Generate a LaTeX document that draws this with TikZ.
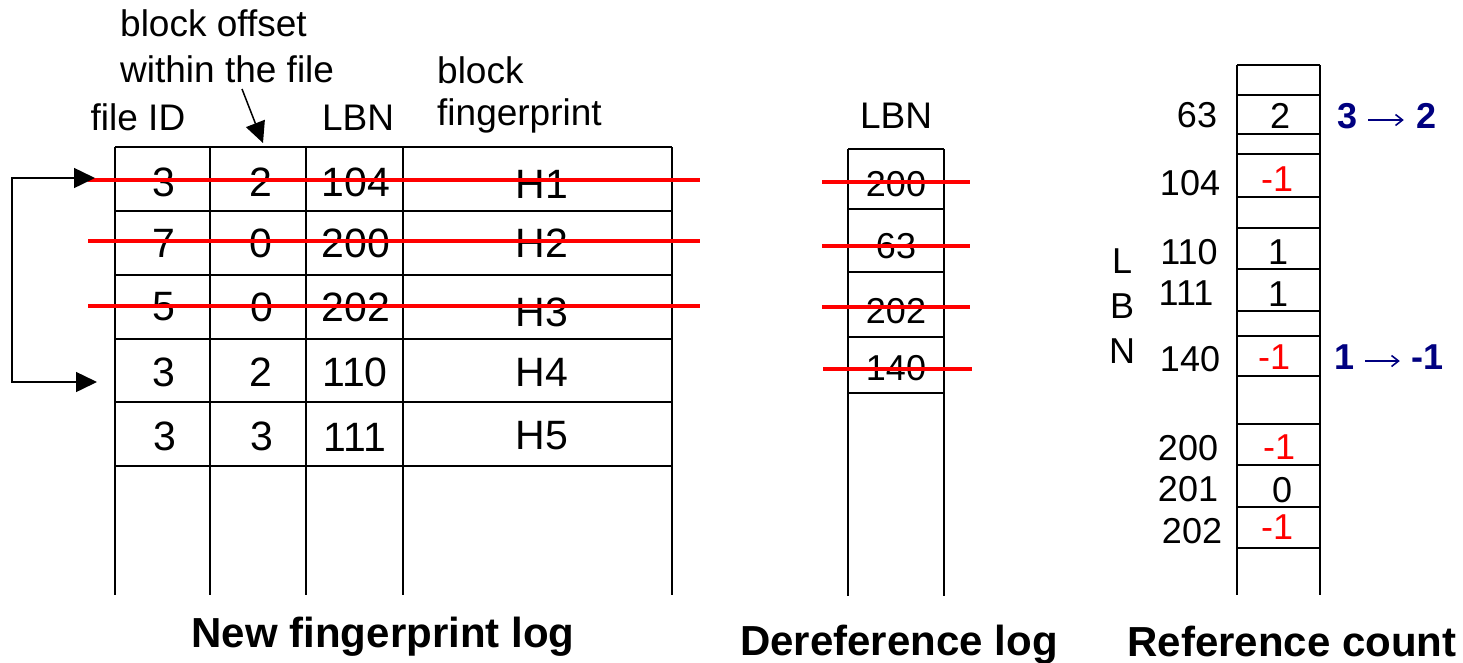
\documentclass[tikz,border=0pt]{standalone}
\usepackage{fontspec}
\setmainfont{Liberation Sans}
\usetikzlibrary{arrows.meta}
\definecolor{navy}{RGB}{0,0,128}
\begin{document}
\begin{tikzpicture}[x=1pt,y=-1pt,
  grid/.style={line width=1.8pt, black},
  strike/.style={line width=4pt, red},
  cell/.style={inner sep=0pt, font=\fontsize{41}{48}\selectfont},
  head/.style={inner sep=0pt, anchor=base, font=\fontsize{37}{44}\selectfont},
  small/.style={inner sep=0pt, font=\fontsize{36}{43}\selectfont},
  neg/.style={small, text=red},
  caption/.style={inner sep=0pt, anchor=base, font=\fontsize{42}{50}\selectfont\bfseries},
  change/.style={inner sep=0pt, text=navy, font=\fontsize{36}{43}\selectfont\bfseries},
  changearrow/.style={navy, line width=1.6pt, -{Straight Barb[length=7pt,width=11pt,line width=1.6pt]}},
  bigtip/.style={-{Triangle[length=21pt,width=20pt]}, line width=1.5pt},
  bothtips/.style={{Triangle[length=21pt,width=20pt]}-{Triangle[length=21pt,width=20pt]}, line width=1.5pt}
]
\useasboundingbox (0,0) rectangle (1463,662);

% ---------------- new fingerprint log ----------------
\foreach \y in {147,211,275,339,402,466} \draw[grid] (115,\y) -- (672,\y);
\foreach \x in {115,210,306,403,672} \draw[grid] (\x,147) -- (\x,595);

\node[head] (hfid) at (138,130) {file ID};
\node[head, anchor=base west] (hoffa) at (120,36) {block offset};
\node[head, anchor=base west] (hoffb) at (120,82) {within the file};
\node[head] (hlbn) at (358,130) {LBN};
\node[head, anchor=base west] (hfpa) at (437,83) {block};
\node[head, anchor=base west] (hfpb) at (437,125) {fingerprint};

\coordinate (offtail) at (242,89);
\coordinate (offtip) at (263,143);
\draw[bigtip] (offtail) -- (offtip);

\node[cell] (r1a) at (164,182) {3};
\node[cell] (r1b) at (261,182) {2};
\node[cell] (r1c) at (356,182) {104};
\node[cell] (r1d) at (542,184) {H1};
\node[cell] (r2a) at (164,243) {7};
\node[cell] (r2b) at (261,243) {0};
\node[cell] (r2c) at (356,243) {200};
\node[cell] (r2d) at (542,243) {H2};
\node[cell] (r3a) at (164,307) {5};
\node[cell] (r3b) at (262,307) {0};
\node[cell] (r3c) at (356,307) {202};
\node[cell] (r3d) at (542,312) {H3};
\node[cell] (r4a) at (164,372) {3};
\node[cell] (r4b) at (261,372) {2};
\node[cell] (r4c) at (355,372) {110};
\node[cell] (r4d) at (542,372) {H4};
\node[cell] (r5a) at (165,436) {3};
\node[cell] (r5b) at (262,436) {3};
\node[cell] (r5c) at (355,437) {111};
\node[cell] (r5d) at (542,436) {H5};

\foreach \y in {180,241,306} \draw[strike] (88,\y) -- (700,\y);

% entry pointer on the left
\coordinate (loopa) at (95,178);
\coordinate (loopb) at (12,178);
\coordinate (loopc) at (12,382);
\coordinate (loopd) at (97,382);
\draw[bothtips] (loopa) -- (loopb) -- (loopc) -- (loopd);

\node[caption] (capa) at (383,647) {New fingerprint log};

% ---------------- dereference log ----------------
\foreach \y in {149,209,272,337,393} \draw[grid] (848,\y) -- (944,\y);
\foreach \x in {848,944} \draw[grid] (\x,149) -- (\x,596);

\node[head] (dlbn) at (896,128) {LBN};
\node[small] (d1) at (896,184) {200};
\node[small] (d2) at (896,246) {63};
\node[small] (d3) at (896,311) {202};
\node[small] (d4) at (896,368) {140};

\draw[strike] (822,182) -- (970,182);
\draw[strike] (822,246) -- (970,246);
\draw[strike] (822,307) -- (970,307);
\draw[strike] (823,369) -- (972,369);

\node[caption] (capb) at (899,655) {Dereference log};

% ---------------- reference count ----------------
\foreach \y in {65,95,134,154,197,228,269,311,336,376,424,465,507,548}
  \draw[grid] (1237,\y) -- (1320,\y);
\foreach \x in {1237,1320} \draw[grid] (\x,65) -- (\x,595);

\node[small] (l63)  at (1197,115) {63};
\node[small] (l104) at (1190,183) {104};
\node[small] (l110) at (1189,252) {110};
\node[small] (l111) at (1186,293) {111};
\node[small] (l140) at (1190,359) {140};
\node[small] (l200) at (1188,448) {200};
\node[small] (l201) at (1188,489) {201};
\node[small] (l202) at (1192,531) {202};

\node[small] (lbnl) at (1122,261) {L};
\node[small] (lbnb) at (1122,306) {B};
\node[small] (lbnn) at (1122,351) {N};

\node[small] (v63)  at (1280,116) {2};
\node[neg]   (v104) at (1277,179) {-1};
\node[small] (v110) at (1278,252) {1};
\node[small] (v111) at (1278,294) {1};
\node[neg]   (v140) at (1274,357) {-1};
\node[neg]   (v200) at (1279,447) {-1};
\node[small] (v201) at (1282,490) {0};
\node[neg]   (v202) at (1277,527) {-1};

% changes of the counts
\node[change] (oldA) at (1347,116) {3};
\node[change] (newA) at (1426,116) {2};
\draw[changearrow] ([xshift=11pt,yshift=-4pt]oldA.east) -- ([xshift=-12pt,yshift=-4pt]newA.west);
\node[change] (oldB) at (1344,357) {1};
\node[change] (newB) at (1427,357) {-1};
\draw[changearrow] ([xshift=11pt,yshift=-4pt]oldB.east) -- ([xshift=-11pt,yshift=-4pt]newB.west);

\node[caption] (capc) at (1292,656) {Reference count};
\end{tikzpicture}
\end{document}
